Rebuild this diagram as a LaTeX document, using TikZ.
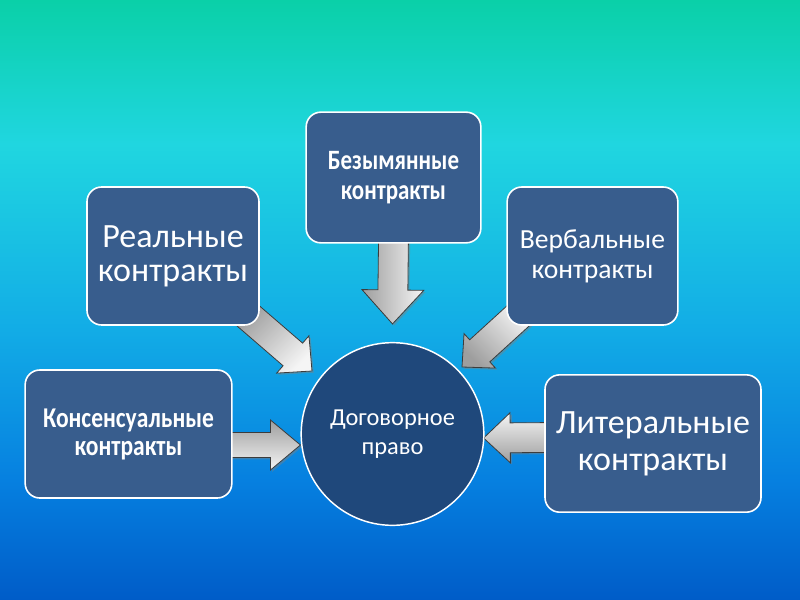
\documentclass[tikz,border=0pt]{standalone}
\usepackage{fontspec}
\setmainfont{Carlito}
\newfontfamily\condbold[FakeStretch=0.82]{Carlito Bold}
\usetikzlibrary{calc,shadows}
\pgfdeclarelayer{bottom}
\pgfdeclarelayer{arrows}
\pgfsetlayers{bottom,arrows,main}
\definecolor{boxblue}{RGB}{56,93,141}
\definecolor{circblue}{RGB}{31,72,123}
\definecolor{bgtop}{RGB}{10,208,168}
\definecolor{bgcyan}{RGB}{32,214,224}
\definecolor{bgmid}{RGB}{18,172,230}
\definecolor{bglow}{RGB}{6,128,224}
\definecolor{bgbot}{RGB}{0,92,200}
\definecolor{arrline}{RGB}{60,60,60}
\pgfdeclareverticalshading{bgshade}{100bp}{color(0bp)=(bgbot); color(25bp)=(bgbot); color(35bp)=(bglow); color(47.5bp)=(bgmid); color(63bp)=(bgcyan); color(75bp)=(bgtop); color(100bp)=(bgtop)}
\tikzset{
  box/.style={draw=white, line width=1.2pt, fill=boxblue, rounded corners=11pt,
    text=white, align=center, inner sep=0pt},
  hub/.style={circle, draw=white, line width=1.1pt, fill=circblue, text=white,
    align=center, minimum size=137pt, inner sep=0pt},
  blockarrow/.style={draw=arrline, line width=0.6pt, line join=miter,
    left color=black!38, right color=white!96!black,
    drop shadow={shadow xshift=1.3pt, shadow yshift=-1.3pt, opacity=0.45}},
}
% #1 start, #2 end, #3 shaft half width, #4 head half width, #5 head length, #6 shading angle
\newcommand\blockarr[6]{%
  \coordinate (ba-s) at (#1);
  \coordinate (ba-e) at (#2);
  \coordinate (ba-h) at ($(ba-e)!#5!(ba-s)$);
  \path[blockarrow, shading angle=#6]
    ($(ba-s)!#3!90:(ba-e)$) -- ($(ba-h)!#3!90:(ba-e)$) -- ($(ba-h)!#4!90:(ba-e)$)
    -- (ba-e) -- ($(ba-h)!#4!-90:(ba-e)$) -- ($(ba-h)!#3!-90:(ba-e)$)
    -- ($(ba-s)!#3!-90:(ba-e)$) -- cycle;
}
\begin{document}
\begin{tikzpicture}[x=0.75pt, y=-0.75pt]
  \useasboundingbox (0,0) rectangle (800,600);
  \begin{pgfonlayer}{bottom}
    \shade[shading=bgshade] (0,0) rectangle (800,600);
  \end{pgfonlayer}

  % nodes
  \node[hub, font=\fontsize{18.3}{22}\selectfont] (hub) at (392.5,434) {Договорное\\право};
  \node[box, minimum width=155pt, minimum height=96pt, font=\condbold\fontsize{21.5}{21}\selectfont] (kons) at (128.5,434)
    {Консенсуальные\\контракты};
  \node[box, minimum width=129pt, minimum height=103.5pt, font=\fontsize{25.5}{25.5}\selectfont] (real) at (173,256)
    {Реальные\\контракты};
  \node[box, minimum width=131pt, minimum height=98pt, font=\condbold\fontsize{21}{22.5}\selectfont] (bez) at (393.5,177.5)
    {Безымянные\\контракты};
  \node[box, minimum width=128pt, minimum height=103.5pt, font=\fontsize{20.7}{22.5}\selectfont] (verb) at (592.5,256)
    {Вербальные\\контракты};
  \node[box, minimum width=162pt, minimum height=103pt, font=\fontsize{25.5}{28}\selectfont] (lit) at (653,443.5)
    {Литеральные\\контракты};

  % arrows behind the nodes
  \begin{pgfonlayer}{arrows}
    \blockarr{$(kons.east)+(-6,11)$}{$(hub.west)+(0,11)$}{9.4pt}{18.8pt}{22.5pt}{0}
    \blockarr{$(lit.west)+(6,-6)$}{$(hub.east)+(-1,4)$}{11.2pt}{18.8pt}{20pt}{180}
    \blockarr{$(bez.south)+(0,-6)$}{$(hub.north)+(0,-18)$}{11.2pt}{23.2pt}{25.5pt}{90}
    \blockarr{$(real.south east)+(-14,-12)$}{312,371}{11.2pt}{18.5pt}{19pt}{45}
    \blockarr{$(verb.south west)+(14,-12)$}{462,367}{11.2pt}{17.5pt}{18pt}{135}
  \end{pgfonlayer}
\end{tikzpicture}
\end{document}
